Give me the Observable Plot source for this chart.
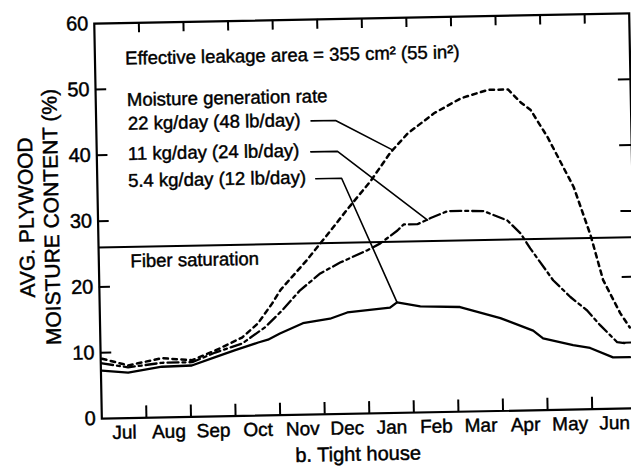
<!DOCTYPE html>
<html>
<head>
<meta charset="utf-8">
<script src="https://cdn.jsdelivr.net/npm/d3@7"></script>
<script src="https://cdn.jsdelivr.net/npm/@observablehq/plot@0.6"></script>
<style>
  html, body { margin: 0; padding: 0; background: #fff; overflow: hidden; width: 631px; height: 468px; }
  #chart svg { display: block; max-width: none; }
  #chart svg text { stroke: #000; stroke-width: 0.45px; }
</style>
</head>
<body>
<div id="chart"></div>
<script>
// ---- data ----
const months = ["Jul", "Aug", "Sep", "Oct", "Nov", "Dec", "Jan", "Feb", "Mar", "Apr", "May", "Jun"];
const monthCenters = [0.5, 1.5, 2.5, 3.5, 4.5, 5.5, 6.5, 7.5, 8.5, 9.5, 10.5, 11.5];
const monthBoundaries = [1, 2, 3, 4, 5, 6, 7, 8, 9, 10, 11];
const yTicks = [0, 10, 20, 30, 40, 50, 60];
const sideTicks = [10, 20, 30, 40, 50];
const fiberSaturation = 26;

// 5.4 kg/day (12 lb/day) - solid
const lowX = [0.02, 0.61, 1.37, 2.04, 2.57, 3.02, 3.54, 3.76, 4.03, 4.55, 5.16, 5.55, 6.51, 6.67, 7.19, 8.08, 8.98, 9.71, 9.93, 10.6, 10.98, 11.49, 11.87];
const lowY = [7.3, 6.9, 7.7, 7.8, 9.0, 10.0, 11.1, 11.5, 12.4, 13.9, 14.5, 15.4, 16.0, 16.8, 16.1, 15.9, 14.1, 12.1, 10.9, 9.8, 9.3, 7.8, 7.8];

// 11 kg/day (24 lb/day) - dash-dot
const midX = [0.03, 0.61, 1.37, 2.05, 2.57, 3.18, 3.7, 4.09, 4.5, 4.96, 5.41, 6.03, 6.32, 6.71, 6.85, 7.16, 7.46, 7.84, 8.13, 8.65, 9.18, 9.47, 9.68, 10.18, 10.56, 10.93, 11.22, 11.59, 11.81];
const midY = [8.4, 7.7, 8.3, 8.3, 9.7, 11.0, 13.4, 15.9, 18.9, 21.4, 23.0, 24.8, 25.8, 27.7, 28.6, 28.6, 29.5, 30.5, 30.5, 30.4, 28.9, 26.9, 24.6, 19.7, 17.1, 15.0, 12.7, 10.1, 9.9];

// 22 kg/day (48 lb/day) - dotted
const highX = [0.03, 0.61, 1.37, 2.05, 2.57, 3.18, 3.54, 3.87, 4.06, 4.67, 5.14, 5.6, 6.13, 6.59, 6.98, 7.58, 8.19, 8.8, 9.25, 9.53, 9.75, 10.12, 10.68, 11.04, 11.3, 11.67, 11.88];
const highY = [9.1, 8.0, 9.0, 8.6, 10.0, 11.9, 14.0, 17.0, 19.0, 23.5, 27.3, 31.1, 35.3, 39.6, 42.4, 45.4, 47.6, 48.8, 48.8, 46.8, 45.6, 41.4, 33.8, 26.4, 19.6, 14.5, 12.3];

// leader lines (label -> curve)
const leadHighX = [4.82, 5.37, 6.62], leadHighY = [44.6, 44.6, 40.0];
const leadMidX = [4.8, 5.4, 7.39], leadMidY = [39.9, 39.9, 29.2];
const leadLowX = [4.9, 5.48, 6.67], leadLowY = [35.8, 35.8, 16.8];

// annotation texts
const noteText = ["Effective leakage area = 355 cm\u00B2 (55 in\u00B2)", "Moisture generation rate", "22 kg/day (48 lb/day)", "11 kg/day (24 lb/day)", "5.4 kg/day (12 lb/day)", "Fiber saturation"];
const noteX = [0.68, 0.7, 0.71, 0.7, 0.69, 0.71];
const noteY = [54.6, 48.3, 44.7, 40.1, 36.0, 23.8];

const yLabel = "AVG. PLYWOOD\nMOISTURE CONTENT (%)";
const title = "b. Tight house";

// ---- build ----
const pts = (xs, ys) => xs.map((x, i) => ({x, y: ys[i]}));
const notes = noteText.map((t, i) => ({text: t, x: noteX[i], y: noteY[i]}));

const plot = Plot.plot({
  width: 634,
  height: 468,
  marginLeft: 97.5,
  marginRight: 1.5,
  marginTop: 18,
  marginBottom: 55,
  style: {fontFamily: "'Liberation Sans', Arial, Helvetica, sans-serif", fontSize: "20px", color: "#000", background: "#fff", overflow: "visible"},
  x: {domain: [0, 12]},
  y: {domain: [0, 60]},
  marks: [
    Plot.axisY({ticks: yTicks, tickSize: 0, tickPadding: 6, fontSize: 20, label: null}),
    Plot.axisX({ticks: monthCenters, tickFormat: d => months[Math.floor(d)], tickSize: 0, tickPadding: 7, fontSize: 19, label: null}),
    // inward ticks on four sides
    Plot.ruleX(monthBoundaries, {x: d => d, y1: 0, y2: 1.8, stroke: "#000", strokeWidth: 2}),
    Plot.ruleX(monthBoundaries, {x: d => d, y1: 60, y2: 58.5, stroke: "#000", strokeWidth: 2}),
    Plot.ruleY(sideTicks, {y: d => d, x1: 0, x2: 0.25, stroke: "#000", strokeWidth: 2}),
    Plot.ruleY(sideTicks, {y: d => d, x1: 12, x2: 11.73, stroke: "#000", strokeWidth: 2}),
    Plot.ruleY([fiberSaturation], {stroke: "#000", strokeWidth: 2}),
    Plot.line(pts(lowX, lowY), {x: "x", y: "y", stroke: "#000", strokeWidth: 2.3}),
    Plot.line(pts(midX, midY), {x: "x", y: "y", stroke: "#000", strokeWidth: 2.3, strokeDasharray: "11,4,3,4"}),
    Plot.line(pts(highX, highY), {x: "x", y: "y", stroke: "#000", strokeWidth: 2.5, strokeDasharray: "4.5,4.5"}),
    Plot.line(pts(leadHighX, leadHighY), {x: "x", y: "y", stroke: "#000", strokeWidth: 1.6}),
    Plot.line(pts(leadMidX, leadMidY), {x: "x", y: "y", stroke: "#000", strokeWidth: 1.6}),
    Plot.line(pts(leadLowX, leadLowY), {x: "x", y: "y", stroke: "#000", strokeWidth: 1.6}),
    Plot.text(notes, {x: "x", y: "y", text: "text", textAnchor: "start", fontSize: 18.5, fill: "#000"}),
    Plot.text([yLabel], {frameAnchor: "left", dx: -60, dy: -5, rotate: -90, text: d => d, fontSize: 21, lineHeight: 1.2, textAnchor: "middle", fill: "#000"}),
    Plot.text([title], {frameAnchor: "bottom", dx: -12, dy: 47, text: d => d, fontSize: 20, fill: "#000"}),
    Plot.frame({stroke: "#000", strokeWidth: 2.2})
  ]
});
plot.style.maxWidth = "none";
plot.style.transformOrigin = "365px 215.5px";
plot.style.transform = "rotate(-1.1deg)";
document.getElementById("chart").appendChild(plot);
</script>
</body>
</html>
